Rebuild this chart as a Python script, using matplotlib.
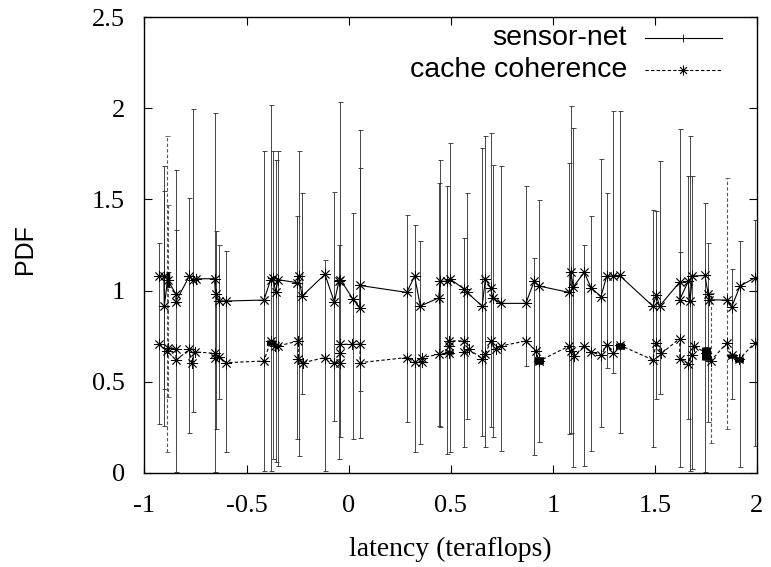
import numpy as np
import matplotlib
matplotlib.use('Agg')
import matplotlib.pyplot as plt
from matplotlib.lines import Line2D

# sensor-net: x, y and error bar ends (low / high)
sensor_x = [-0.928, -0.905, -0.903, -0.887, -0.846, -0.846, -0.780, -0.764, -0.748, -0.657,
            -0.652, -0.633, -0.600, -0.415, -0.382, -0.370, -0.357, -0.346, -0.251, -0.245,
            -0.228, -0.116, -0.070, -0.048, -0.040, 0.020, 0.054, 0.056, 0.285, 0.323,
            0.351, 0.441, 0.449, 0.482, 0.495, 0.564, 0.580, 0.654, 0.670, 0.695,
            0.706, 0.745, 0.868, 0.908, 0.933, 1.080, 1.089, 1.100, 1.154, 1.187,
            1.236, 1.264, 1.293, 1.327, 1.490, 1.507, 1.523, 1.622, 1.622, 1.663,
            1.672, 1.684, 1.745, 1.761, 1.766, 1.851, 1.876, 1.917, 1.990]
sensor_y = [1.08, 1.08, 0.915, 1.06, 0.98, 0.94, 1.08, 1.06, 1.065, 1.065,
            0.98, 0.943, 0.943, 0.948, 1.06, 1.07, 0.99, 1.06, 1.043, 1.08,
            0.97, 1.089, 0.937, 1.05, 1.06, 0.955, 0.906, 1.028, 0.99, 1.08,
            0.915, 0.96, 1.052, 1.05, 1.065, 1.01, 0.99, 0.915, 1.065, 1.016,
            0.96, 0.93, 0.93, 1.05, 1.025, 0.99, 1.10, 1.02, 1.10, 1.016,
            0.967, 1.08, 1.08, 1.083, 0.915, 0.974, 0.915, 1.047, 0.951, 1.05,
            0.942, 1.08, 1.083, 0.98, 0.95, 0.948, 0.91, 1.025, 1.07]
sensor_lo = [0.268, 0.259, 0.459, 1.02, 0.003, 0.93, 0.222, 0.332, 1.065, 0.003,
             0.24, 0.405, 0.113, 0.012, 0.012, 0.076, 0.058, 0.04, 0.186, 0.095,
             0.432, 0.012, 0.286, 0.076, 0.195, 0.186, 0.45, 0.19, 0.277, 0.113,
             0.158, 0.259, 0.25, 0.104, 0.113, 0.14, 0.295, 0.204, 0.14, 0.25,
             0.195, 0.122, 0.587, 0.098, 0.171, 0.213, 0.222, 0.031, 0.04, 0.122,
             0.25, 0.578, 0.55, 0.222, 0.14, 0.405, 0.432, 0.031, 0.94, 0.295,
             0.013, 0.022, 0.003, 0.277, 0.95, 0.948, 0.405, 0.031, 0.149]
sensor_hi = [1.262, 1.685, 1.544, 1.10, 1.663, 1.334, 1.508, 1.995, 1.065, 1.973,
             1.325, 1.252, 1.216, 1.763, 2.018, 1.763, 1.717, 1.763, 1.407, 1.763,
             1.535, 1.17, 1.539, 1.252, 2.036, 1.426, 1.672, 1.878, 1.416, 1.362,
             1.271, 1.59, 1.717, 1.572, 1.809, 1.289, 1.535, 1.781, 1.845, 1.863,
             1.69, 1.681, 1.575, 1.179, 1.498, 1.699, 2.013, 1.891, 1.252, 1.407,
             1.721, 1.535, 1.987, 1.982, 1.444, 1.435, 1.708, 1.885, 1.21, 1.626,
             1.845, 1.626, 1.48, 1.262, 0.95, 0.948, 1.116, 1.271, 1.389]

# cache coherence: x, y and error below / above
cache_x = [-0.928, -0.890, -0.884, -0.846, -0.846, -0.780, -0.769, -0.753, -0.657, -0.657,
           -0.633, -0.600, -0.415, -0.382, -0.362, -0.346, -0.247, -0.247, -0.223, -0.116,
           -0.070, -0.042, -0.042, -0.042, 0.018, 0.056, 0.056, 0.285, 0.323, 0.359,
           0.359, 0.441, 0.490, 0.490, 0.490, 0.564, 0.564, 0.589, 0.654, 0.670,
           0.695, 0.720, 0.745, 0.868, 0.916, 0.933, 1.080, 1.089, 1.105, 1.154,
           1.187, 1.236, 1.264, 1.297, 1.330, 1.490, 1.507, 1.532, 1.622, 1.622,
           1.663, 1.680, 1.690, 1.750, 1.773, 1.851, 1.876, 1.913, 1.990]
cache_y = [0.706, 0.67, 0.687, 0.682, 0.618, 0.678, 0.605, 0.664, 0.656, 0.63,
           0.638, 0.605, 0.614, 0.724, 0.696, 0.696, 0.724, 0.627, 0.605, 0.633,
           0.605, 0.605, 0.656, 0.706, 0.706, 0.706, 0.605, 0.633, 0.609, 0.609,
           0.633, 0.65, 0.66, 0.696, 0.724, 0.724, 0.664, 0.678, 0.627, 0.65,
           0.724, 0.682, 0.696, 0.724, 0.67, 0.614, 0.696, 0.67, 0.642, 0.696,
           0.664, 0.645, 0.70, 0.656, 0.70, 0.62, 0.715, 0.656, 0.737, 0.627,
           0.60, 0.645, 0.696, 0.66, 0.614, 0.711, 0.645, 0.624, 0.715]
cache_dn = [0, 0.557, 0.273, 0, 0, 0, 0, 0, 0, 0,
            0, 0, 0, 0.024, 0, 0, 0, 0, 0, 0,
            0, 0, 0, 0, 0, 0, 0, 0, 0, 0,
            0, 0, 0.01, 0, 0, 0, 0, 0, 0, 0,
            0, 0, 0, 0, 0, 0.014, 0, 0, 0, 0,
            0, 0, 0, 0, 0.02, 0, 0, 0, 0, 0,
            0, 0, 0, 0.04, 0.447, 0.471, 0.015, 0.014, 0]
cache_up = [0, 1.179, 0.784, 0, 0, 0, 0, 0, 0, 0,
            0, 0, 0, 0.006, 0, 0, 0, 0, 0, 0,
            0, 0, 0, 0, 0, 0, 0, 0, 0, 0,
            0, 0, 0.01, 0, 0, 0, 0, 0, 0, 0,
            0, 0, 0, 0, 0, 0.021, 0, 0, 0, 0,
            0, 0, 0, 0, 0.01, 0, 0, 0, 0, 0,
            0, 0, 0, 0.03, 0.374, 0.906, 0.01, 0.011, 0]

x_ticks = [-1, -0.5, 0, 0.5, 1, 1.5, 2]
x_ticklabels = ['-1', '-0.5', '0', '0.5', '1', '1.5', '2']
y_ticks = [0, 0.5, 1, 1.5, 2, 2.5]
y_ticklabels = ['0', '0.5', '1', '1.5', '2', '2.5']

serif = 'Liberation Serif'
sans = 'Liberation Sans'
star = (8, 2, 0)

fig = plt.figure(figsize=(7.71, 5.67), dpi=100)
ax = fig.add_axes([0.1874, 0.1658, 0.7944, 0.8042])

sx = np.array(sensor_x)
sy = np.array(sensor_y)
s_dn = np.clip(sy - np.array(sensor_lo), 0, None)
s_up = np.clip(np.array(sensor_hi) - sy, 0, None)
ax.errorbar(sx, sy, yerr=[s_dn, s_up], fmt='-', color='black', lw=0.8,
            marker=star, ms=8, mew=0.6, ecolor='#2a2a2a', elinewidth=0.6,
            capsize=1.8, capthick=0.6)

cx = np.array(cache_x)
cy = np.array(cache_y)
c_dn = np.array(cache_dn)
c_up = np.array(cache_up)
eb = ax.errorbar(cx, cy, yerr=[c_dn, c_up], fmt='-', color='black', lw=0.8,
                 marker=star, ms=8, mew=0.6, ecolor='#555555', elinewidth=0.8,
                 capsize=1.8, capthick=0.8)
eb[0].set_dashes((3, 2))
eb[2][0].set_linestyle((0, (3, 2)))

# short bars show up as solid blobs
for xs, ys, dn, up, w in [(sx, sy, s_dn, s_up, 2.5), (cx, cy, c_dn, c_up, 6.5)]:
    m = (dn + up > 0) & (dn + up < 0.09)
    ax.errorbar(xs[m], ys[m], yerr=[dn[m], up[m]], fmt='none', ecolor='black',
                elinewidth=w, capsize=0)

ax.set_xlim(-1, 2)
ax.set_ylim(0, 2.5)
ax.set_xticks(x_ticks)
ax.set_xticklabels(x_ticklabels, fontfamily=serif, fontsize=19)
ax.set_yticks(y_ticks)
ax.set_yticklabels(y_ticklabels, fontfamily=serif, fontsize=19)
ax.tick_params(direction='in', length=6, width=0.8, top=True, right=True)
ax.tick_params(axis='x', pad=16)
ax.tick_params(axis='y', pad=14)
for s in ax.spines.values():
    s.set_linewidth(1.0)

ax.set_xlabel('latency (teraflops)', fontfamily=serif, fontsize=20)
ax.xaxis.set_label_coords(0.5, -0.14)
ax.set_ylabel('PDF', fontfamily=sans, fontsize=18)
ax.yaxis.set_label_coords(-0.176, 0.49)

# key, gnuplot style: text first, sample after
ax.text(0.788, 0.954, 'sensor-net', transform=ax.transAxes, ha='right', va='center',
        fontfamily=sans, fontsize=20.5)
ax.add_line(Line2D([0.817, 0.88, 0.943], [0.954, 0.954, 0.954], transform=ax.transAxes,
                   color='black', lw=0.8, marker='|', ms=6, mew=0.6, markevery=[1]))
ax.text(0.788, 0.884, 'cache coherence', transform=ax.transAxes, ha='right', va='center',
        fontfamily=sans, fontsize=20.5)
ax.add_line(Line2D([0.817, 0.88, 0.943], [0.884, 0.884, 0.884], transform=ax.transAxes,
                   color='black', lw=0.8, dashes=(3, 2), marker=star, ms=7, mew=0.6,
                   markevery=[1]))

fig.savefig('out.png', dpi=100)
